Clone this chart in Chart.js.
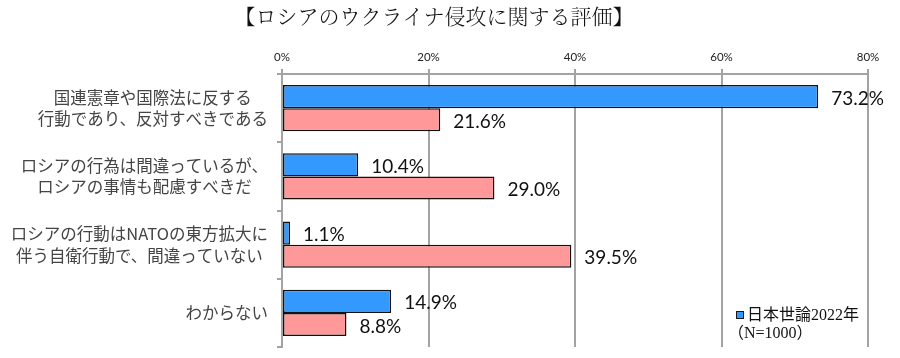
<!DOCTYPE html>
<html><head><meta charset="utf-8">
<script src="https://cdn.jsdelivr.net/npm/chart.js@4.4.1/dist/chart.umd.min.js"></script>
<style>html,body{margin:0;padding:0;background:#fff;} #wrap{width:900px;height:358px;}</style>
</head><body><div id="wrap"><canvas id="c" width="900" height="358"></canvas></div>
<script>
const titleText = '【ロシアのウクライナ侵攻に関する評価】';
const categories = [
  ['国連憲章や国際法に反する', '行動であり、反対すべきである'],
  ['ロシアの行為は間違っているが、', 'ロシアの事情も配慮すべきだ'],
  ['ロシアの行動はNATOの東方拡大に', '伴う自衛行動で、間違っていない'],
  ['わからない']
];
const series1Name = '日本世論2022年';
const series1Note = '（N=1000）';
const series1 = [73.2, 10.4, 1.1, 14.9];
const series2 = [21.6, 29.0, 39.5, 8.8];
const xTicks = [0, 20, 40, 60, 80];

const gridColor = '#a3a3a3';
const blue = '#3399ff';
const pink = '#ff9999';

const customDraw = {
  id: 'customDraw',
  afterDatasetsDraw(chart) {
    const ctx = chart.ctx;
    ctx.save();
    // value labels
    ctx.font = "19px Lato, 'Noto Sans', sans-serif";
    ctx.fillStyle = '#111';
    ctx.textBaseline = 'middle';
    ctx.textAlign = 'left';
    chart.data.datasets.forEach((ds, di) => {
      chart.getDatasetMeta(di).data.forEach((bar, i) => {
        ctx.fillText(ds.data[i].toFixed(1) + '%', bar.x + 13, bar.y + 2);
      });
    });
    // category labels: block right-aligned, lines centered within block
    const ys = chart.scales.y;
    ctx.font = "16.5px 'Noto Sans CJK JP', sans-serif";
    ctx.fillStyle = '#444';
    ctx.textAlign = 'center';
    const rightEdge = chart.chartArea.left - 14;
    categories.forEach((lines, i) => {
      const cy = ys.getPixelForValue(i);
      const w = Math.max(...lines.map(l => ctx.measureText(l).width));
      const cx = rightEdge - w / 2;
      const lh = 21.5;
      lines.forEach((l, k) => ctx.fillText(l, cx, cy + (k - (lines.length - 1) / 2) * lh));
    });
    // legend (first series only)
    const lx = 736.5, ly = 311.5;
    ctx.fillStyle = blue;
    ctx.fillRect(lx, ly, 7, 7);
    ctx.strokeStyle = '#1a1a1a';
    ctx.lineWidth = 1;
    ctx.strokeRect(lx, ly, 7, 7);
    ctx.fillStyle = '#111';
    ctx.textAlign = 'left';
    ctx.font = "16px 'Liberation Serif', 'Noto Sans CJK JP', serif";
    ctx.fillText(series1Name, 747, 315.5);
    ctx.fillText(series1Note, 728, 334);
    ctx.restore();
  }
};

new Chart(document.getElementById('c'), {
  type: 'bar',
  data: {
    labels: categories,
    datasets: [
      { label: series1Name, data: series1, backgroundColor: blue, borderColor: '#111', borderWidth: 1.5, borderSkipped: false, categoryPercentage: 0.674, barPercentage: 1 },
      { label: '', data: series2, backgroundColor: pink, borderColor: '#111', borderWidth: 1.5, borderSkipped: false, categoryPercentage: 0.674, barPercentage: 1 }
    ]
  },
  options: {
    indexAxis: 'y',
    responsive: false,
    animation: false,
    layout: { padding: { left: 0, right: 32, top: 0, bottom: 11 } },
    plugins: {
      legend: { display: false },
      tooltip: { enabled: false },
      title: {
        display: true,
        text: titleText,
        color: '#111',
        font: { family: "'Noto Serif CJK JP', 'Noto Sans CJK JP', sans-serif", size: 21, weight: '300', lineHeight: 1.2 },
        padding: { top: 3, bottom: 0 }
      }
    },
    scales: {
      x: {
        type: 'linear',
        position: 'top',
        min: 0, max: 80,
        afterBuildTicks(scale) { scale.ticks = xTicks.map(v => ({ value: v })); },
        afterFit(scale) { scale.height = 74 - 28.2; },
        ticks: {
          callback: v => v + '%',
          color: '#222',
          padding: 5,
          font: { family: "Lato, 'Noto Sans', sans-serif", size: 11.5 }
        },
        grid: { color: gridColor, lineWidth: 2, tickLength: 5 },
        border: { color: gridColor, width: 2 }
      },
      y: {
        type: 'category',
        afterFit(scale) { scale.width = 282; },
        ticks: { display: false },
        grid: { offset: true, drawOnChartArea: false, color: gridColor, lineWidth: 2, tickLength: 5 },
        border: { color: gridColor, width: 2 }
      }
    }
  },
  plugins: [customDraw]
});
</script>
</body></html>
